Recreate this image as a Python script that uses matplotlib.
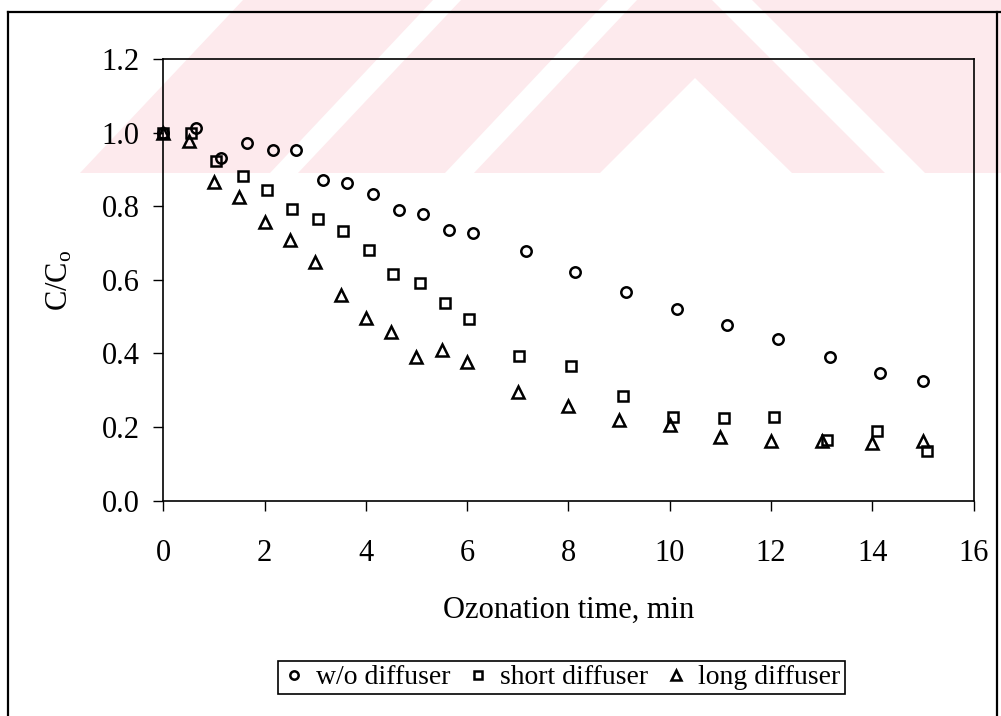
import matplotlib
matplotlib.use('Agg')
import matplotlib.pyplot as plt
from matplotlib.patches import Polygon
from matplotlib.ticker import FormatStrFormatter

plt.rcParams['font.family'] = ['Liberation Serif', 'DejaVu Serif']
plt.rcParams['mathtext.fontset'] = 'custom'
plt.rcParams['mathtext.rm'] = 'Liberation Serif'
plt.rcParams['mathtext.it'] = 'Liberation Serif:italic'

# ozonation time (min) and C/Co for each run
t_none = [0, 0.65, 1.13, 1.65, 2.16, 2.63, 3.15, 3.62, 4.14, 4.66, 5.13, 5.65, 6.12,
          7.16, 8.14, 9.13, 10.14, 11.14, 12.14, 13.16, 14.16, 15.0]
c_none = [1.0, 1.012, 0.931, 0.971, 0.953, 0.953, 0.871, 0.863, 0.833, 0.791, 0.778, 0.736, 0.727,
          0.679, 0.622, 0.567, 0.521, 0.478, 0.439, 0.390, 0.346, 0.324]

t_short = [0, 0.55, 1.05, 1.58, 2.04, 2.55, 3.06, 3.54, 4.06, 4.54, 5.07, 5.57, 6.04,
           7.03, 8.06, 9.07, 10.07, 11.07, 12.07, 13.10, 14.09, 15.08]
c_short = [1.0, 1.0, 0.923, 0.882, 0.844, 0.792, 0.765, 0.733, 0.680, 0.616, 0.591, 0.536, 0.493,
           0.393, 0.366, 0.284, 0.228, 0.224, 0.228, 0.165, 0.190, 0.135]

t_long = [0, 0.5, 1.0, 1.5, 2.0, 2.5, 3.0, 3.5, 4.0, 4.5, 5.0, 5.5, 6.0,
          7.0, 8.0, 9.0, 10.0, 11.0, 12.0, 13.0, 14.0, 15.0]
c_long = [1.0, 0.979, 0.867, 0.826, 0.758, 0.708, 0.649, 0.560, 0.497, 0.459, 0.391, 0.409, 0.378,
          0.296, 0.257, 0.219, 0.205, 0.174, 0.163, 0.163, 0.156, 0.163]

labels = ['w/o diffuser', 'short diffuser', 'long diffuser']

W, H = 1001, 716
fig = plt.figure(figsize=(W / 100, H / 100), dpi=100)
fig.patch.set_facecolor('white')

# background layer in pixel coords: scan watermark + outer frame
bg = fig.add_axes([0, 0, 1, 1], zorder=0)
bg.set_xlim(0, W)
bg.set_ylim(H, 0)
bg.axis('off')
pink = '#fdeaed'
bg.add_patch(Polygon([(80, 173), (243, 0), (W, 0), (W, 173)], closed=True, fc=pink, ec='none'))
for poly in [
    [(270, 173), (298, 173), (461, 0), (433, 0)],
    [(445, 173), (474, 173), (637, 0), (608, 0)],
    [(600, 173), (792, 173), (695, 78)],
    [(712, 0), (752, 0), (925, 173), (885, 173)],
]:
    bg.add_patch(Polygon(poly, closed=True, fc='white', ec='none'))
bg.plot([8, 8], [12, H], color='black', lw=1.6)
bg.plot([8, W], [12, 12], color='black', lw=1.6)
bg.plot([997, 997], [12, H], color='black', lw=1.6)

# main axes
ax = fig.add_axes([163.3 / W, 1 - 500.5 / H, (973.5 - 163.3) / W, (500.5 - 59.3) / H], zorder=1)
ax.set_facecolor('none')

style = dict(linestyle='none', mfc='none', mec='black', mew=1.8, clip_on=False)
ax.plot(t_none, c_none, marker='o', ms=7.5, label=labels[0], **style)
ax.plot(t_short, c_short, marker='s', ms=7, label=labels[1], **style)
ax.plot(t_long, c_long, marker='^', ms=9, label=labels[2], **style)

ax.set_xlim(0, 16)
ax.set_ylim(0, 1.2)
ax.set_xticks(range(0, 17, 2))
ax.set_yticks([0, 0.2, 0.4, 0.6, 0.8, 1.0, 1.2])
ax.yaxis.set_major_formatter(FormatStrFormatter('%.1f'))
for s in ax.spines.values():
    s.set_linewidth(1.2)
ax.tick_params(axis='both', direction='out', length=7, width=1, labelsize=22, colors='black')
ax.tick_params(axis='x', pad=21)
ax.tick_params(axis='y', pad=10)

ax.set_xlabel('Ozonation time, min', fontsize=22)
ax.xaxis.set_label_coords(0.5, -0.215)
ax.set_ylabel(r'C/C$_{\mathrm{o}}$', fontsize=22)
ax.yaxis.set_label_coords(-0.11, 0.5)

leg = fig.legend(loc='center', bbox_to_anchor=(561.5 / W, 1 - 677.5 / H), ncol=3,
                 fontsize=20, markerscale=0.8, handlelength=0.8, handletextpad=0.4,
                 columnspacing=0.6, borderpad=0.15, fancybox=False, framealpha=1)
leg.get_frame().set_edgecolor('black')
leg.get_frame().set_linewidth(1.2)

fig.savefig('out.png', dpi=100)
